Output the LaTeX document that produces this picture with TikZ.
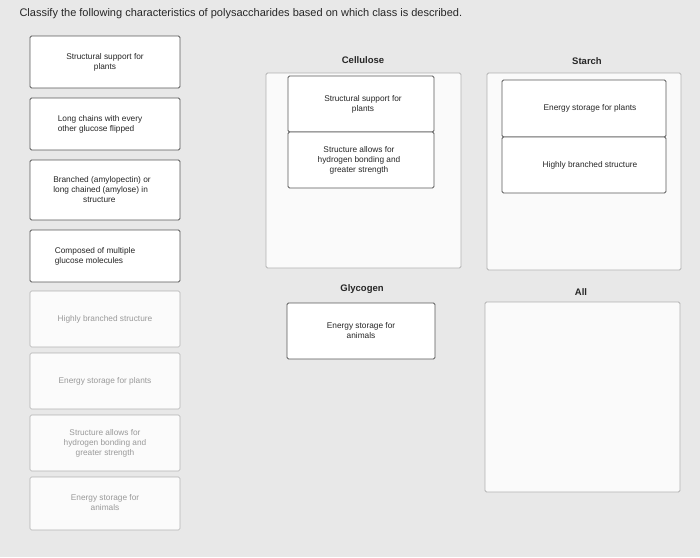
\documentclass[tikz,border=0pt]{standalone}
\usepackage{fontspec}
\setmainfont{Liberation Sans}
\begin{document}
\begin{tikzpicture}[x=1pt,y=-1pt,
  card/.style={draw=gray!70!black,line width=0.8pt,fill=white,rounded corners=1.5pt},
  faded/.style={draw=gray!60,line width=0.6pt,fill=white!97!gray,rounded corners=1.5pt},
  cont/.style={draw=gray!60,line width=0.8pt,fill=white!96!gray,rounded corners=1.5pt},
  txt/.style={font=\fontsize{8.3}{10}\selectfont,align=center,text=black!85},
  ftxt/.style={font=\fontsize{8.3}{10}\selectfont,align=center,text=gray!80},
  hd/.style={font=\bfseries\fontsize{9.5}{11}\selectfont,text=black!85}]
\fill[gray!18] (0,0) rectangle (700,557);
\node[anchor=west,font=\fontsize{11}{13}\selectfont,text=black!85] (title) at (16,14) {Classify the following characteristics of polysaccharides based on which class is described.};
% left column
\draw[card] (30,36) rectangle (180,88); \node[txt] (l1) at (105,62) {Structural support for\\plants};
\draw[card] (30,98) rectangle (180,150); \node[txt,align=left] (l2) at (100,124) {Long chains with every\\other glucose flipped};
\draw[card] (30,160) rectangle (180,220); \node[txt,align=left] (l3) at (102,190) {Branched (amylopectin) or\\long chained (amylose) in\\\hspace*{3.6em}structure};
\draw[card] (30,230) rectangle (180,282); \node[txt,align=left] (l4) at (95,256) {Composed of multiple\\glucose molecules};
\draw[faded] (30,291) rectangle (180,347); \node[ftxt] (l5) at (105,319) {Highly branched structure};
\draw[faded] (30,353) rectangle (180,409); \node[ftxt] (l6) at (105,381) {Energy storage for plants};
\draw[faded] (30,415) rectangle (180,471); \node[ftxt] (l7) at (105,443) {Structure allows for\\hydrogen bonding and\\greater strength};
\draw[faded] (30,477) rectangle (180,530); \node[ftxt] (l8) at (105,503) {Energy storage for\\animals};
% headers
\node[hd] (hc) at (363,60) {Cellulose};
\node[hd] (hs) at (587,61) {Starch};
\node[hd] (hg) at (362,289) {Glycogen};
\node[hd] (ha) at (581,292) {All};
% containers
\draw[cont] (266,73) rectangle (461,268);
\draw[cont] (487,73) rectangle (681,270);
\draw[cont] (485,302) rectangle (680,492);
% cards in containers
\draw[card] (288,76) rectangle (434,132); \node[txt] (c1) at (363,104) {Structural support for\\plants};
\draw[card] (288,132) rectangle (434,188); \node[txt] (c2) at (359,160) {Structure allows for\\hydrogen bonding and\\greater strength};
\draw[card] (502,80) rectangle (666,137); \node[txt] (s1) at (590,108) {Energy storage for plants};
\draw[card] (502,137) rectangle (666,193); \node[txt] (s2) at (590,165) {Highly branched structure};
\draw[card] (287,303) rectangle (435,359); \node[txt] (g1) at (361,331) {Energy storage for\\animals};
\end{tikzpicture}
\end{document}
